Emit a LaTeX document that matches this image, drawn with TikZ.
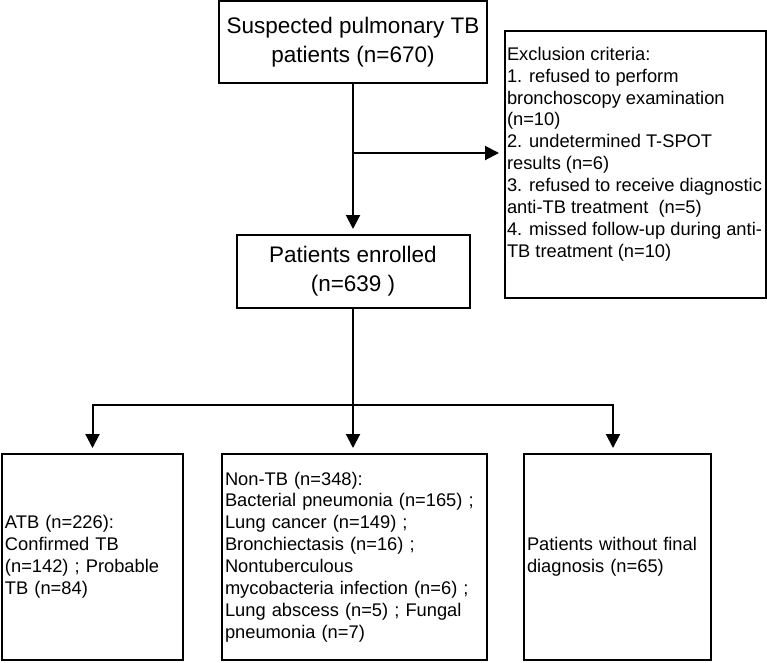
\documentclass[tikz,border=0pt]{standalone}
\usepackage{fontspec}
\setmainfont{Liberation Sans}
\usetikzlibrary{arrows.meta}
\begin{document}
\begin{tikzpicture}[x=1pt,y=-1pt,
  box/.style={draw, line width=2pt, inner sep=0pt},
  big/.style={font=\fontsize{22.5}{29}\selectfont, align=center},
  small/.style={font=\fontsize{18.3}{21.9}\selectfont, align=left, inner xsep=3pt},
  conn/.style={line width=2pt},
  arr/.style={conn, -{Triangle[length=14pt,width=14pt]}, shorten >=5pt}]
\useasboundingbox (0,0) rectangle (767,662);
\node[box, big, minimum width=268pt, minimum height=82pt] (top) at (353,42) {Suspected pulmonary TB\\patients (n=670)};
\node[box, big, minimum width=233pt, minimum height=73pt] (enrolled) at (353,271.5) {Patients enrolled\\(n=639 )};
\node[box, minimum width=261pt, minimum height=267pt, anchor=north west] (excl) at (504,30) {\begin{minipage}[c][267pt][t]{257pt}\fontsize{18.3}{21.9}\selectfont\raggedright\vspace*{16pt}Exclusion criteria:\\
1. refused to perform\\
bronchoscopy examination\\
(n=10)\\
2. undetermined T-SPOT\\
results (n=6)\\
3. refused to receive diagnostic\\
anti-TB treatment~ (n=5)\\
4. missed follow-up during anti-\\
TB treatment (n=10)\end{minipage}};
\node[box, small, text width=175pt, minimum height=206pt] (atb) at (92.5,557) {ATB (n=226):\\Confirmed TB\\(n=142) ; Probable\\TB (n=84)};
\node[box, small, text width=259pt, minimum height=206pt] (nontb) at (354.5,557) {Non-TB (n=348):\\Bacterial pneumonia (n=165) ;\\Lung cancer (n=149) ;\\Bronchiectasis (n=16) ;\\Nontuberculous\\mycobacteria infection (n=6) ;\\Lung abscess (n=5) ; Fungal\\pneumonia (n=7)};
\node[box, small, text width=181pt, minimum height=206pt] (nofinal) at (617.5,557) {Patients without final\\diagnosis (n=65)};
\coordinate (b1) at (353,153);
\coordinate (bC) at (353,405);
\coordinate (bR) at (613,405);
\draw[arr] (top.south) -- (enrolled.north);
\draw[arr] (b1) -- (b1 -| excl.west);
\draw[arr] (enrolled.south) -- (enrolled.south |- nontb.north);
\draw[arr] (bC) -| (atb.north);
\draw[arr] (bC) -- (bR) -- (bR |- nofinal.north);
\end{tikzpicture}
\end{document}
